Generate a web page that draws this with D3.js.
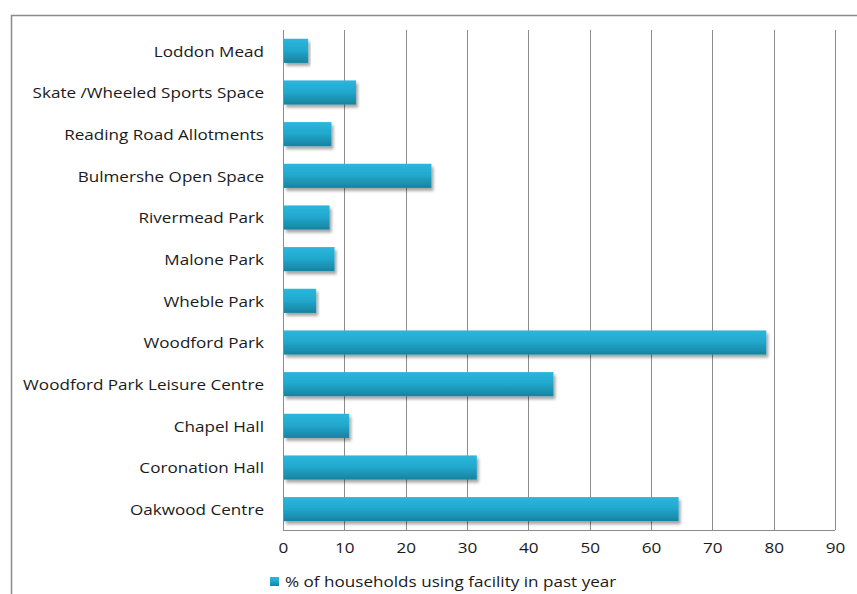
<!DOCTYPE html>
<html>
<head>
<meta charset="utf-8">
<script src="https://cdn.jsdelivr.net/npm/d3@7"></script>
<style>
  html, body { margin: 0; padding: 0; background: #fff; }
  svg { display: block; }
  text { font-family: "Open Sans", "Noto Sans", sans-serif; fill: #1a1a1a; }
</style>
</head>
<body>
<svg id="chart" width="857" height="594"></svg>
<script>
// Facilities, listed top to bottom
const facilities = [
  "Loddon Mead",
  "Skate /Wheeled Sports Space",
  "Reading Road Allotments",
  "Bulmershe Open Space",
  "Rivermead Park",
  "Malone Park",
  "Wheble Park",
  "Woodford Park",
  "Woodford Park Leisure Centre",
  "Chapel Hall",
  "Coronation Hall",
  "Oakwood Centre"
];
// % of households using each facility in the past year
const usage = [4.1, 11.9, 7.9, 24.2, 7.6, 8.4, 5.4, 78.8, 44.1, 10.8, 31.6, 64.5];
const xTicks = [0, 10, 20, 30, 40, 50, 60, 70, 80, 90];
const seriesName = "% of households using facility in past year";

const svg = d3.select("#chart");
const plot = { left: 283, right: 835, top: 30, bottom: 530 };
const stretch = 1.14; // wide lettering

// outer chart frame
svg.append("rect")
  .attr("x", 11.5).attr("y", 15.5)
  .attr("width", 900).attr("height", 700)
  .attr("fill", "none").attr("stroke", "#8a8a8a").attr("stroke-width", 1.5);

const x = d3.scaleLinear().domain([0, 90]).range([plot.left, plot.right]);
const y = d3.scaleBand().domain(facilities).range([plot.top, plot.bottom]).paddingInner(0.42).paddingOuter(0.21);

const defs = svg.append("defs");
const grad = defs.append("linearGradient").attr("id", "barFill")
  .attr("x1", 0).attr("y1", 0).attr("x2", 0).attr("y2", 1);
grad.append("stop").attr("offset", "0%").attr("stop-color", "#2cb6da");
grad.append("stop").attr("offset", "45%").attr("stop-color", "#22a9cf");
grad.append("stop").attr("offset", "100%").attr("stop-color", "#17839f");

const shadow = defs.append("filter").attr("id", "barShadow")
  .attr("x", "-5%").attr("y", "-30%").attr("width", "115%").attr("height", "180%");
shadow.append("feGaussianBlur").attr("in", "SourceAlpha").attr("stdDeviation", 1.6).attr("result", "b");
shadow.append("feOffset").attr("in", "b").attr("dx", 2).attr("dy", 3).attr("result", "o");
shadow.append("feComponentTransfer").attr("in", "o").attr("result", "s")
  .append("feFuncA").attr("type", "linear").attr("slope", 0.35);
const merge = shadow.append("feMerge");
merge.append("feMergeNode").attr("in", "s");
merge.append("feMergeNode").attr("in", "SourceGraphic");

// vertical gridlines
svg.append("g")
  .selectAll("line")
  .data(xTicks.slice(1))
  .join("line")
  .attr("x1", d => Math.round(x(d)) + 0.5).attr("x2", d => Math.round(x(d)) + 0.5)
  .attr("y1", plot.top).attr("y2", plot.bottom)
  .attr("stroke", "#8c8c8c").attr("stroke-width", 1);

// bottom axis line and left axis line
svg.append("line")
  .attr("x1", plot.left).attr("x2", plot.right)
  .attr("y1", plot.bottom + 0.5).attr("y2", plot.bottom + 0.5)
  .attr("stroke", "#8c8c8c");
svg.append("line")
  .attr("x1", plot.left + 0.5).attr("x2", plot.left + 0.5)
  .attr("y1", plot.top).attr("y2", plot.bottom)
  .attr("stroke", "#8c8c8c");

// bars
svg.append("g")
  .selectAll("rect")
  .data(facilities.map((f, i) => ({ f, v: usage[i] })))
  .join("rect")
  .attr("x", x(0) + 1)
  .attr("y", d => y(d.f))
  .attr("width", d => x(d.v) - x(0) - 1)
  .attr("height", y.bandwidth())
  .attr("fill", "url(#barFill)")
  .attr("filter", "url(#barShadow)");

// x axis tick labels, widened about each tick's centre
const xAxis = d3.axisBottom(x).tickValues(xTicks).tickSize(0).tickPadding(12);
const gx = svg.append("g").attr("transform", `translate(0,${plot.bottom})`).call(xAxis);
gx.select(".domain").remove();
gx.selectAll("text")
  .attr("font-size", 15).attr("font-family", "Open Sans").attr("fill", "#1a1a1a")
  .attr("transform", `scale(${stretch},1)`);

// category labels
const yAxis = d3.axisLeft(y).tickSize(0).tickPadding(19);
const gy = svg.append("g").attr("transform", `translate(${plot.left},0)`).call(yAxis);
gy.select(".domain").remove();
gy.selectAll("text")
  .attr("font-size", 15).attr("font-family", "Open Sans").attr("fill", "#1a1a1a")
  .attr("x", -19 / stretch)
  .attr("y", 1)
  .attr("transform", `scale(${stretch},1)`);

// legend
const legend = svg.append("g").attr("transform", "translate(270,577)");
legend.append("rect").attr("width", 9).attr("height", 9).attr("fill", "url(#barFill)");
legend.append("text").attr("x", 15 / stretch).attr("y", 4.5).attr("dy", "0.35em")
  .attr("font-size", 15).attr("transform", `scale(${stretch},1)`).text(seriesName);
</script>
</body>
</html>
